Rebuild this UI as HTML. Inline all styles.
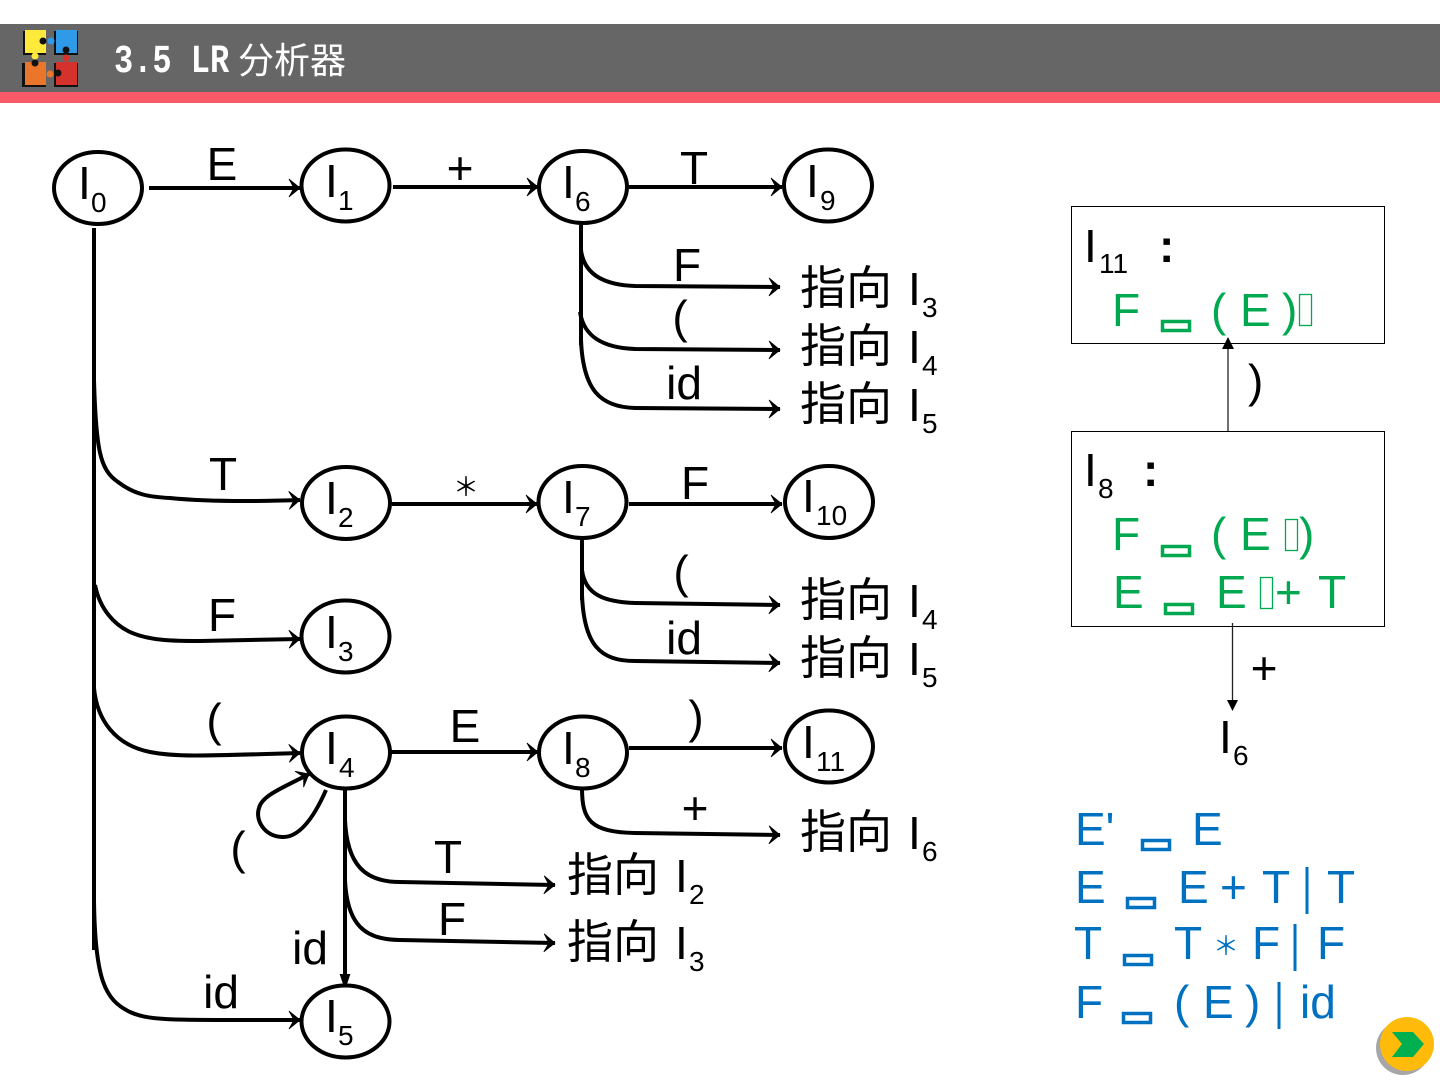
<!DOCTYPE html>
<html lang="zh">
<head>
<meta charset="utf-8">
<title>3.5 LR 分析器</title>
<style>
html,body{margin:0;padding:0;background:#fff;width:1440px;height:1080px;overflow:hidden}
svg{display:block}
text{font-family:"Liberation Sans","Noto Sans CJK SC",sans-serif;font-size:46px;fill:#000}
.c{text-anchor:middle}
.s{font-size:28px}
.g text{fill:#00A850}
.b text{fill:#0070C0}
.line{fill:none;stroke:#000;stroke-width:4}
.node{fill:#fff;stroke:#000;stroke-width:4}
.tg{fill:none;stroke:#00A850;stroke-width:3.500}
.tgt{fill:none;stroke:#00A850;stroke-width:1.300}
.tb{fill:none;stroke:#0070C0;stroke-width:3.500}
</style>
</head>
<body>
<svg width="1440" height="1080" viewBox="0 0 1440 1080" xmlns="http://www.w3.org/2000/svg">
<defs>
<marker id="a" markerUnits="userSpaceOnUse" markerWidth="14" markerHeight="22" refX="12" refY="10" orient="auto">
<path d="M1,1 L12,10 L1,19 L6,10 Z" fill="#000" stroke="#000" stroke-width="0.800"/>
</marker>
</defs>

<rect x="0" y="24" width="1440" height="68" fill="#666"/>
<rect x="0" y="92" width="1440" height="11" fill="#F85A68"/>
<g>
<rect x="23" y="31" width="23" height="24" fill="#111"/>
<rect x="54" y="31" width="24" height="24" fill="#111"/>
<rect x="22" y="63" width="24" height="24" fill="#111"/>
<rect x="54" y="63" width="24" height="24" fill="#111"/>
<rect x="25" y="30" width="21" height="23" fill="#FFE93B"/>
<rect x="56" y="30" width="21" height="23" fill="#2F9BE8"/>
<rect x="25" y="62" width="21" height="23" fill="#E9762B"/>
<rect x="56" y="62" width="21" height="23" fill="#D5322E"/>
<circle cx="43" cy="41" r="3.500" fill="#111"/>
<circle cx="51" cy="41" r="3.500" fill="#2F9BE8"/>
<circle cx="35" cy="56" r="3.500" fill="#FFE93B"/>
<circle cx="35" cy="63" r="3.500" fill="#111"/>
<circle cx="66" cy="50" r="3.500" fill="#111"/>
<circle cx="66" cy="58" r="3.500" fill="#D5322E"/>
<circle cx="50" cy="74" r="3.500" fill="#E9762B"/>
<circle cx="58" cy="73" r="3.500" fill="#111"/>
</g>
<text transform="translate(114,72) scale(.8,1)" style="font-family:'Liberation Mono','Noto Sans CJK SC',monospace;font-size:40px;font-weight:bold;fill:#fff">3.5 LR</text>
<text x="238" y="73" style="font-size:36px;fill:#fff">分析器</text>

<!-- connectors -->
<path class="line" marker-end="url(#a)" d="M149,188 H300"/>
<path class="line" marker-end="url(#a)" d="M393,187 H538"/>
<path class="line" marker-end="url(#a)" d="M629,187 H782"/>
<path class="line" d="M94,228 V950"/>
<path class="line" marker-end="url(#a)" d="M94,380 C96,450 100,470 118,482 C135,495 150,497 170,498 C200,501 240,502 300,500"/>
<path class="line" marker-end="url(#a)" d="M95,585 C100,610 115,625 130,632 C150,641 175,641 200,641 L300,639"/>
<path class="line" marker-end="url(#a)" d="M94,688 C97,720 115,745 150,752 C175,757 200,756 300,753"/>
<path class="line" marker-end="url(#a)" d="M94,900 C95,980 105,1000 130,1012 C150,1021 170,1020 300,1020"/>

<path class="line" d="M581,225 V345"/>
<path class="line" marker-end="url(#a)" d="M581,250 C584,275 605,285 635,286 L780,287"/>
<path class="line" marker-end="url(#a)" d="M580,312 C584,338 605,348 635,349 L780,350"/>
<path class="line" marker-end="url(#a)" d="M581,340 C583,390 600,407 635,408 L780,409"/>

<path class="line" marker-end="url(#a)" d="M392,504 H537"/>
<path class="line" marker-end="url(#a)" d="M629,504 H782"/>
<path class="line" d="M582,538 V600"/>
<path class="line" marker-end="url(#a)" d="M582,570 C585,595 605,602 635,603 L780,605"/>
<path class="line" marker-end="url(#a)" d="M582,595 C584,645 600,661 635,661 L780,663"/>

<path class="line" marker-end="url(#a)" d="M391,752 H538"/>
<path class="line" marker-end="url(#a)" d="M629,748 H782"/>
<path class="line" marker-end="url(#a)" d="M582,788 C582,820 590,832 635,833 L780,835"/>

<path class="line" marker-end="url(#a)" d="M326,790 C315,815 300,838 282,837 C264,836 255,820 259,808 C262,795 285,787 309,774"/>
<path class="line" d="M345,790 V975"/>
<path d="M345,975 H349 L345,987 L341,975 Z" fill="#000" stroke="#000" stroke-width="2"/>
<path class="line" marker-end="url(#a)" d="M345,820 C347,865 365,882 400,882 L555,885"/>
<path class="line" marker-end="url(#a)" d="M345,880 C347,925 365,940 400,940 L555,943"/>

<!-- nodes -->
<ellipse class="node" cx="98" cy="188" rx="44" ry="36"/>
<ellipse class="node" cx="345.500" cy="185.500" rx="44" ry="36"/>
<ellipse class="node" cx="583" cy="187" rx="44" ry="36"/>
<ellipse class="node" cx="828" cy="185.500" rx="44" ry="36"/>
<ellipse class="node" cx="346" cy="503" rx="44" ry="36"/>
<ellipse class="node" cx="582.500" cy="502" rx="44" ry="36"/>
<ellipse class="node" cx="829" cy="502" rx="44" ry="36"/>
<ellipse class="node" cx="345.500" cy="636.500" rx="44" ry="36"/>
<ellipse class="node" cx="346" cy="752.500" rx="44" ry="36"/>
<ellipse class="node" cx="583" cy="752.500" rx="44" ry="36"/>
<ellipse class="node" cx="829" cy="746.500" rx="44" ry="36"/>
<ellipse class="node" cx="345.500" cy="1021.500" rx="44" ry="36"/>

<!-- node labels -->
<text x="78" y="199">I<tspan class="s" x="91" dy="13">0</tspan></text>
<text x="325" y="197">I<tspan class="s" x="338" dy="13">1</tspan></text>
<text x="562" y="198">I<tspan class="s" x="575" dy="13">6</tspan></text>
<text x="806" y="197">I<tspan class="s" x="820" dy="13">9</tspan></text>
<text x="325" y="514">I<tspan class="s" x="338" dy="13">2</tspan></text>
<text x="562" y="513">I<tspan class="s" x="575" dy="13">7</tspan></text>
<text x="802" y="512">I<tspan class="s" x="816" dy="13">10</tspan></text>
<text x="325" y="648">I<tspan class="s" x="338" dy="13">3</tspan></text>
<text x="325" y="764">I<tspan class="s" x="339" dy="13">4</tspan></text>
<text x="562" y="764">I<tspan class="s" x="575" dy="13">8</tspan></text>
<text x="802" y="758">I<tspan class="s" x="816" dy="13">11</tspan></text>
<text x="325" y="1032">I<tspan class="s" x="338" dy="13">5</tspan></text>

<!-- edge labels -->
<text class="c" x="222" y="180">E</text>
<text class="c" x="460" y="184">+</text>
<text class="c" x="694" y="184">T</text>
<text class="c" x="687" y="281">F</text>
<text class="c" x="680" y="333">(</text>
<text class="c" x="684" y="399">id</text>
<text class="c" x="223" y="490">T</text>
<text class="c" x="466" y="496" style="font-size:26px">＊</text>
<text class="c" x="695" y="499">F</text>
<text class="c" x="681" y="588">(</text>
<text class="c" x="684" y="654">id</text>
<text class="c" x="222" y="631">F</text>
<text class="c" x="214" y="736">(</text>
<text class="c" x="465" y="742">E</text>
<text class="c" x="696" y="733">)</text>
<text class="c" x="695" y="824">+</text>
<text class="c" x="238" y="864">(</text>
<text class="c" x="448" y="873">T</text>
<text class="c" x="452" y="935">F</text>
<text class="c" x="310" y="964">id</text>
<text class="c" x="221" y="1008">id</text>

<!-- targets -->
<text x="800" y="304">指向</text><text x="908" y="305">I<tspan class="s" x="922" dy="12">3</tspan></text>
<text x="800" y="362">指向</text><text x="908" y="363">I<tspan class="s" x="922" dy="12">4</tspan></text>
<text x="800" y="420">指向</text><text x="908" y="421">I<tspan class="s" x="922" dy="12">5</tspan></text>
<text x="800" y="616">指向</text><text x="908" y="617">I<tspan class="s" x="922" dy="12">4</tspan></text>
<text x="800" y="674">指向</text><text x="908" y="675">I<tspan class="s" x="922" dy="12">5</tspan></text>
<text x="800" y="848">指向</text><text x="908" y="849">I<tspan class="s" x="922" dy="12">6</tspan></text>
<text x="567" y="891">指向</text><text x="675" y="892">I<tspan class="s" x="689" dy="12">2</tspan></text>
<text x="567" y="958">指向</text><text x="675" y="959">I<tspan class="s" x="689" dy="12">3</tspan></text>

<!-- right boxes -->
<rect x="1071.500" y="206.500" width="313" height="137" fill="#fff" stroke="#000"/>
<rect x="1071.500" y="431.500" width="313" height="195" fill="#fff" stroke="#000"/>
<path d="M1228,349 V431" stroke="#222" stroke-width="1.300" fill="none"/>
<path d="M1228,337 L1234,349 L1222,349 Z" fill="#000"/>
<path d="M1232.500,623 V701" stroke="#222" stroke-width="1.300" fill="none"/>
<path d="M1232.500,711 L1227,700 L1238,700 Z" fill="#000"/>

<text x="1084" y="262">I<tspan class="s" x="1099" dy="11">11</tspan></text>
<text x="1159" y="262" style="font-weight:bold">:</text>
<text x="1084" y="486">I<tspan class="s" x="1098" dy="12">8</tspan></text>
<text x="1143" y="486" style="font-weight:bold">:</text>
<text x="1248" y="397">)</text>
<text x="1264" y="684" class="c">+</text>
<text x="1219" y="753">I<tspan class="s" x="1233" dy="12">6</tspan></text>

<g class="g">
<text x="1112" y="326">F</text>
<text x="1211" y="326">(</text>
<text x="1240" y="326">E</text>
<text x="1282" y="326">)</text>
<text x="1112" y="550">F</text>
<text x="1211" y="550">(</text>
<text x="1240" y="550">E</text>
<text x="1299" y="550">)</text>
<text x="1113" y="608">E</text>
<text x="1216" y="608">E</text>
<text x="1275" y="608">+</text>
<text x="1318" y="608">T</text>
</g>
<rect class="tg" x="1162.500" y="321.500" width="27" height="9"/>
<rect class="tgt" x="1299.500" y="294.500" width="12" height="31"/>
<rect class="tg" x="1162.500" y="546.500" width="27" height="9"/>
<rect class="tgt" x="1285.500" y="519.500" width="12" height="31"/>
<rect class="tg" x="1165.500" y="604.500" width="27" height="9"/>
<rect class="tgt" x="1260.500" y="577.500" width="12" height="31"/>

<!-- grammar -->
<g class="b">
<text x="1075" y="845">E'</text>
<text x="1192" y="845">E</text>
<text x="1075" y="903">E</text>
<text x="1178" y="903">E</text>
<text x="1220" y="903">+</text>
<text x="1262" y="903">T</text>
<text x="1327" y="903">T</text>
<text x="1074" y="959">T</text>
<text x="1174" y="959">T</text>
<text class="c" x="1226" y="955" style="font-size:26px">＊</text>
<text x="1252" y="959">F</text>
<text x="1317" y="959">F</text>
<text x="1075" y="1018">F</text>
<text x="1174" y="1018">(</text>
<text x="1203" y="1018">E</text>
<text x="1245" y="1018">)</text>
<text x="1300" y="1018">id</text>
</g>
<rect class="tb" x="1142.500" y="840.500" width="27" height="9"/>
<rect class="tb" x="1127.500" y="898.500" width="27" height="9"/>
<rect class="tb" x="1124.500" y="955.500" width="27" height="9"/>
<rect class="tb" x="1123.500" y="1013.500" width="27" height="9"/>
<path d="M1307,867 V914 M1295,924 V971 M1279,982 V1029" stroke="#0070C0" stroke-width="3" fill="none"/>

<!-- next button -->
<circle cx="1403" cy="1048" r="27" fill="#A6A6A6"/>
<circle cx="1407" cy="1044" r="27" fill="#FFBA0A"/>
<path d="M1392,1032 H1413 L1424,1044 L1413,1057 H1392 L1402,1044 Z" fill="#00B050"/>
</svg>
</body>
</html>
